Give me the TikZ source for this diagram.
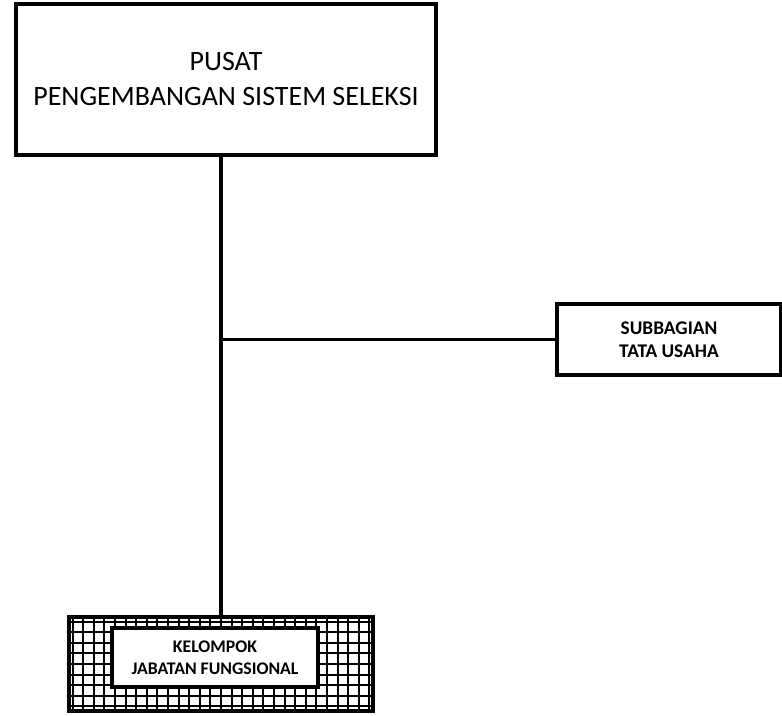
\documentclass[tikz,border=0pt]{standalone}
\usepackage{fontspec}
\setmainfont{Carlito}
\usetikzlibrary{positioning,backgrounds}

\begin{document}
\begin{tikzpicture}[
x=0.75pt,y=-0.75pt,
box/.style={
  draw,
  line width=2.8pt,
  fill=white,
  align=center,
  inner sep=0pt
},
headbox/.style={box,font=\fontsize{21}{26.25}\selectfont},
unitbox/.style={box,font=\fontsize{14.5}{17.25}\selectfont\bfseries},
groupbox/.style={box,font=\fontsize{13.3}{16.5}\selectfont\bfseries},
gridframe/.style={
  draw,
  line width=3.2pt,
  inner sep=0pt,
  path picture={
    \draw[line width=1.4pt,step=7.95pt]
      (path picture bounding box.south west) grid
      (path picture bounding box.north east);
  }
},
link/.style={line width=2.6pt}
]
\useasboundingbox (0,0) rectangle (782,716);

\node[headbox,minimum width=315pt,minimum height=113.25pt] (pusat) at (226,79.5)
  {PUSAT\\PENGEMBANGAN SISTEM SELEKSI};
\node[unitbox,minimum width=168pt,minimum height=53.25pt] (subbag) at (669,339.5)
  {SUBBAGIAN\\TATA USAHA};
\node[gridframe,minimum width=228pt,minimum height=70.5pt] (kelframe) at (221,664) {};
\node[groupbox,minimum width=154.5pt,minimum height=44.25pt] (kelompok) at (215,657.5)
  {KELOMPOK\\JABATAN FUNGSIONAL};

\draw[link] (pusat.south -| kelframe.north) -- (kelframe.north);
\draw[link] (subbag.west) -- (subbag.west -| kelframe.north);
\end{tikzpicture}
\end{document}
